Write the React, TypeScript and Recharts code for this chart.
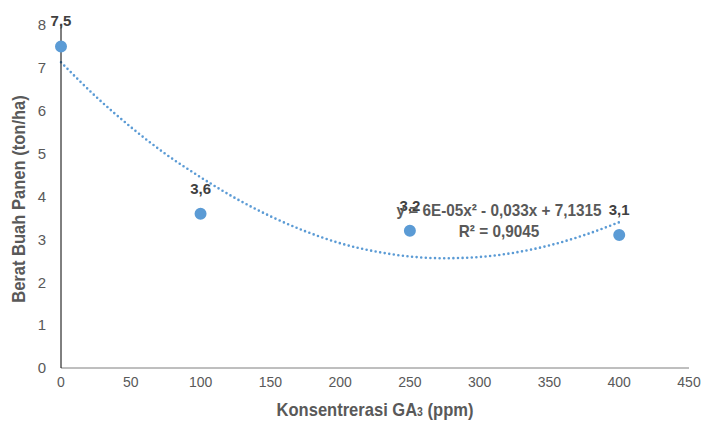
import React from 'react';
import {
  ComposedChart,
  Scatter,
  Line,
  XAxis,
  YAxis,
  ZAxis,
  LabelList
} from 'recharts';

// observed yield per GA3 concentration
const concentrations = [0, 100, 250, 400];
const yields = [7.5, 3.6, 3.2, 3.1];
const yieldLabels = ['7,5', '3,6', '3,2', '3,1'];

// polynomial trendline
const trendX = [0, 25, 50, 75, 100, 125, 150, 175, 200, 225, 250, 275, 300, 325, 350, 375, 400];
const trendY = [7.13, 6.33, 5.62, 4.99, 4.45, 3.96, 3.54, 3.19, 2.91, 2.72, 2.6, 2.56, 2.59, 2.69, 2.86, 3.1, 3.4];

const xTicks = [0, 50, 100, 150, 200, 250, 300, 350, 400, 450];
const yTicks = [0, 1, 2, 3, 4, 5, 6, 7, 8];

const FONT = "'Liberation Sans', Arial, sans-serif";
const GREY = '#595959';
const BLUE = '#5b9bd5';

const points = concentrations.map((x, i) => ({ x, y: yields[i], label: yieldLabels[i] }));
const trend = trendX.map((x, i) => ({ x, y: trendY[i] }));

const PointLabel = (props: any) => {
  const { x, y, width, height, value } = props;
  const cx = x + width / 2;
  const cy = y + height / 2;
  return (
    <text
      x={cx}
      y={cy - 24}
      textAnchor="middle"
      dominantBaseline="middle"
      fontFamily={FONT}
      fontWeight="bold"
      fontSize={15}
      fill="#404040"
    >
      {value}
    </text>
  );
};

// narrow look of the original (Arial Narrow) via horizontal squeeze
const titleStyle: React.CSSProperties = {
  position: 'absolute',
  textAlign: 'center',
  fontFamily: FONT,
  fontWeight: 'bold',
  color: GREY,
  whiteSpace: 'nowrap'
};

const App: React.FC = () => {
  return (
    <div style={{ position: 'absolute', left: 0, top: 0, width: 702, height: 423, background: '#fff' }}>
      <ComposedChart
        width={702}
        height={423}
        margin={{ top: 25, right: 13, left: 0, bottom: 0 }}
      >
        <XAxis
          type="number"
          dataKey="x"
          domain={[0, 450]}
          ticks={xTicks}
          interval={0}
          tickLine={false}
          tickSize={0}
          tickMargin={9}
          height={55}
          axisLine={{ stroke: '#7f7f7f', strokeWidth: 1 }}
          tick={{ fill: GREY, fontSize: 14, fontFamily: FONT }}
        />
        <YAxis
          type="number"
          dataKey="y"
          domain={[0, 8]}
          ticks={yTicks}
          interval={0}
          width={61}
          tickLine={false}
          tickSize={0}
          tickMargin={15}
          axisLine={{ stroke: '#000', strokeWidth: 1 }}
          tick={{ fill: GREY, fontSize: 15, fontFamily: FONT }}
        />
        <ZAxis range={[113, 113]} />
        <Line
          data={trend}
          dataKey="y"
          type="monotone"
          stroke={BLUE}
          strokeWidth={2.6}
          strokeDasharray="0 4.6"
          strokeLinecap="round"
          dot={false}
          activeDot={false}
          isAnimationActive={false}
        />
        <Scatter data={points} fill={BLUE} isAnimationActive={false}>
          <LabelList dataKey="label" content={PointLabel} />
        </Scatter>
      </ComposedChart>

      {/* trendline equation */}
      <div
        style={{
          ...titleStyle,
          left: 349,
          top: 200,
          width: 300,
          fontSize: 17,
          lineHeight: '21px',
          transform: 'scaleX(0.9)'
        }}
      >
        y = 6E-05x² - 0,033x + 7,1315
        <br />
        R² = 0,9045
      </div>

      {/* axis titles */}
      <div style={{ ...titleStyle, left: 175, top: 399, width: 400, fontSize: 19, transform: 'scaleX(0.87)' }}>
        Konsentrerasi GA<span style={{ fontSize: 12 }}>3</span> (ppm)
      </div>
      <div
        style={{
          ...titleStyle,
          left: 19 - 150,
          top: 199 - 11,
          width: 300,
          height: 22,
          lineHeight: '22px',
          fontSize: 19,
          transform: 'rotate(-90deg) scaleX(0.87)'
        }}
      >
        Berat Buah Panen (ton/ha)
      </div>
    </div>
  );
};

export default App;
